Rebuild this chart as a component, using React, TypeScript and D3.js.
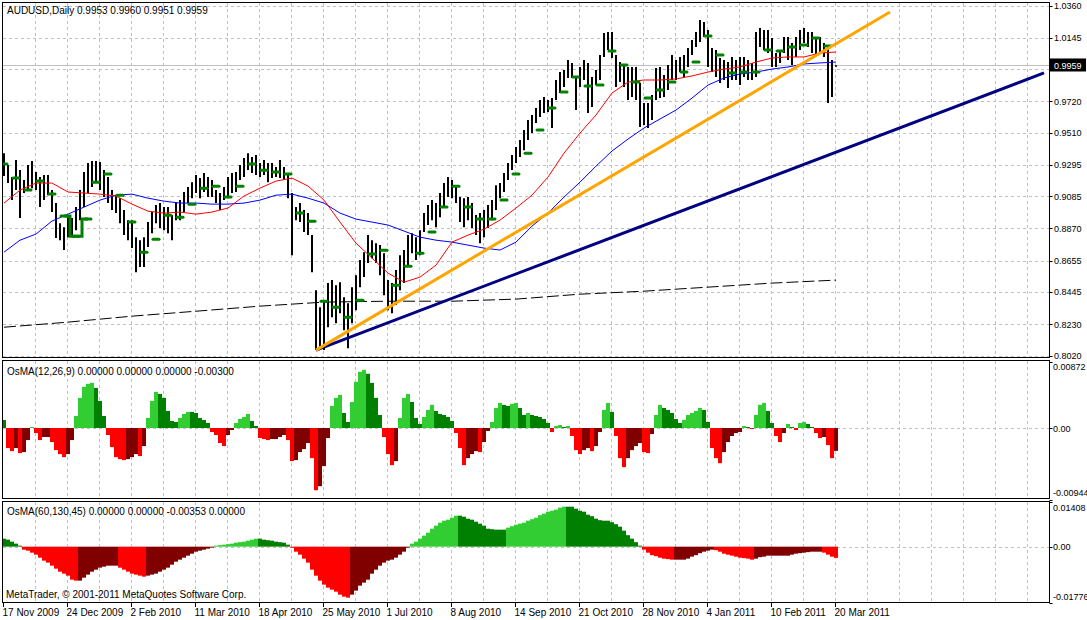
import * as React from 'react';
import * as d3 from 'd3';

// one entry per bar (each bar here covers 2 trading days of the daily chart)
const barHigh = [
  0.9373, 0.9293, 0.9213, 0.9327, 0.9260, 0.9193, 0.9293, 0.9320, 0.9246, 0.9213,
  0.9226, 0.9226, 0.9126, 0.9039, 0.8905, 0.8878, 0.8945, 0.8939, 0.9012, 0.9126,
  0.9246, 0.9307, 0.9320, 0.9320, 0.9313, 0.9260, 0.9213, 0.9126, 0.9092, 0.9072,
  0.8992, 0.8925, 0.8925, 0.8811, 0.8791, 0.8811, 0.8912, 0.8979, 0.9026, 0.9039,
  0.9012, 0.9012, 0.8959, 0.9046, 0.9059, 0.9113, 0.9146, 0.9179, 0.9226, 0.9206,
  0.9240, 0.9213, 0.9193, 0.9126, 0.9106, 0.9146, 0.9213, 0.9240, 0.9246, 0.9293,
  0.9340, 0.9373, 0.9347, 0.9360, 0.9307, 0.9327, 0.9307, 0.9307, 0.9280, 0.9327,
  0.9280, 0.9240, 0.9106, 0.9012, 0.9039, 0.8992, 0.8972, 0.8825, 0.8457, 0.8343,
  0.8390, 0.8504, 0.8524, 0.8490, 0.8510, 0.8410, 0.8370, 0.8477, 0.8557, 0.8658,
  0.8711, 0.8825, 0.8791, 0.8771, 0.8758, 0.8704, 0.8524, 0.8504, 0.8591, 0.8691,
  0.8725, 0.8825, 0.8838, 0.8811, 0.8858, 0.8972, 0.9026, 0.9059, 0.9039, 0.9106,
  0.9173, 0.9213, 0.9193, 0.9159, 0.9079, 0.9072, 0.9079, 0.9039, 0.8959, 0.8972,
  0.8992, 0.9026, 0.9059, 0.9159, 0.9173, 0.9240, 0.9307, 0.9360, 0.9414, 0.9460,
  0.9527, 0.9594, 0.9628, 0.9674, 0.9728, 0.9748, 0.9728, 0.9741, 0.9862, 0.9915,
  0.9929, 0.9996, 0.9976, 0.9882, 0.9949, 0.9996, 0.9976, 0.9882, 0.9929, 1.0029,
  1.0176, 1.0183, 1.0183, 1.0029, 0.9982, 0.9962, 0.9949, 0.9949, 0.9949, 0.9842,
  0.9708, 0.9708, 0.9761, 0.9942, 0.9949, 0.9895, 0.9962, 1.0029, 0.9996, 1.0016,
  1.0029, 1.0076, 1.0129, 1.0183, 1.0263, 1.0250, 1.0196, 1.0076, 1.0062, 1.0009,
  0.9996, 0.9982, 1.0016, 0.9996, 1.0016, 1.0016, 0.9996, 0.9976, 1.0183, 1.0210,
  1.0196, 1.0196, 1.0143, 1.0042, 1.0062, 1.0149, 1.0149, 1.0109, 1.0149, 1.0196,
  1.0210, 1.0183, 1.0183, 1.0149, 1.0149, 1.0109, 1.0096, 0.9996, 0.9960,
];
const barLow = [
  0.9220, 0.9173, 0.9059, 0.9126, 0.8939, 0.9106, 0.9126, 0.9139, 0.9126, 0.9012,
  0.9059, 0.9092, 0.8979, 0.8805, 0.8791, 0.8725, 0.8811, 0.8825, 0.8858, 0.8925,
  0.9012, 0.9106, 0.9146, 0.9173, 0.9126, 0.9079, 0.9039, 0.8992, 0.8972, 0.8905,
  0.8825, 0.8791, 0.8738, 0.8577, 0.8611, 0.8611, 0.8745, 0.8838, 0.8905, 0.8872,
  0.8858, 0.8838, 0.8791, 0.8925, 0.8925, 0.8979, 0.9039, 0.9072, 0.9106, 0.9072,
  0.9113, 0.9079, 0.9079, 0.9039, 0.8992, 0.9059, 0.9072, 0.9106, 0.9113, 0.9193,
  0.9213, 0.9260, 0.9240, 0.9226, 0.9213, 0.9226, 0.9179, 0.9206, 0.9213, 0.9206,
  0.9193, 0.9072, 0.8691, 0.8925, 0.8912, 0.8845, 0.8825, 0.8577, 0.8056, 0.8076,
  0.8056, 0.8209, 0.8276, 0.8236, 0.8303, 0.8189, 0.8069, 0.8236, 0.8323, 0.8477,
  0.8544, 0.8638, 0.8671, 0.8638, 0.8557, 0.8423, 0.8323, 0.8303, 0.8357, 0.8457,
  0.8504, 0.8624, 0.8704, 0.8658, 0.8691, 0.8845, 0.8892, 0.8925, 0.8878, 0.8945,
  0.9012, 0.9079, 0.9072, 0.9039, 0.8912, 0.8878, 0.8925, 0.8872, 0.8825, 0.8771,
  0.8811, 0.8872, 0.8925, 0.8992, 0.9072, 0.9113, 0.9193, 0.9260, 0.9307, 0.9347,
  0.9393, 0.9460, 0.9507, 0.9574, 0.9614, 0.9641, 0.9648, 0.9541, 0.9728, 0.9775,
  0.9815, 0.9875, 0.9875, 0.9661, 0.9815, 0.9862, 0.9641, 0.9681, 0.9828, 0.9862,
  1.0016, 1.0062, 1.0009, 0.9815, 0.9848, 0.9815, 0.9728, 0.9748, 0.9728, 0.9547,
  0.9561, 0.9541, 0.9594, 0.9728, 0.9741, 0.9748, 0.9795, 0.9862, 0.9862, 0.9915,
  0.9882, 0.9949, 1.0029, 1.0083, 1.0116, 1.0149, 0.9949, 0.9915, 0.9882, 0.9842,
  0.9862, 0.9808, 0.9862, 0.9862, 0.9828, 0.9882, 0.9862, 0.9862, 0.9882, 1.0083,
  1.0062, 1.0042, 0.9949, 0.9949, 0.9976, 1.0042, 0.9996, 0.9962, 1.0016, 1.0062,
  1.0109, 1.0083, 1.0042, 1.0029, 1.0042, 1.0016, 0.9708, 0.9748, 0.9951,
];

// moving averages, one reading every 4 bars (red, blue) and every 16 bars (black)
const maStep = 4;
const maRed = [
  0.9039, 0.9126, 0.9173, 0.9173, 0.9113, 0.9106, 0.9099, 0.9086, 0.9032, 0.8985,
  0.8972, 0.8979, 0.8965, 0.8979, 0.9006, 0.9086, 0.9139, 0.9186, 0.9206, 0.9153,
  0.9059, 0.8912, 0.8771, 0.8671, 0.8571, 0.8510, 0.8544, 0.8624, 0.8778, 0.8825,
  0.8865, 0.8925, 0.9006, 0.9092, 0.9213, 0.9373, 0.9507, 0.9628, 0.9775, 0.9848,
  0.9862, 0.9862, 0.9869, 0.9889, 0.9915, 0.9935, 0.9949, 0.9982, 1.0009, 1.0016,
  1.0016, 1.0042, 1.0049,
];
const maBlue = [
  0.8711, 0.8791, 0.8832, 0.8919, 0.8965, 0.9012, 0.9059, 0.9092, 0.9099, 0.9072,
  0.9052, 0.9039, 0.9039, 0.9032, 0.9032, 0.9039, 0.9059, 0.9092, 0.9099, 0.9072,
  0.9039, 0.8972, 0.8932, 0.8912, 0.8892, 0.8852, 0.8811, 0.8791, 0.8778, 0.8758,
  0.8738, 0.8725, 0.8778, 0.8885, 0.8972, 0.9079, 0.9179, 0.9286, 0.9387, 0.9467,
  0.9541, 0.9601, 0.9661, 0.9741, 0.9828, 0.9875, 0.9902, 0.9915, 0.9935, 0.9949,
  0.9969, 0.9976, 0.9982,
];
const maSlowStep = 16;
const maBlack = [
  0.8209, 0.8243, 0.8283, 0.8316, 0.8350, 0.8377, 0.8383, 0.8383, 0.8397, 0.8430,
  0.8450, 0.8477, 0.8504, 0.8524,
];

// weekly green markers: bar index and price
const markerBar = [
  0, 3, 6, 9, 12, 15, 18, 21, 23, 26, 29, 32, 35, 38, 41, 44, 47, 50, 53, 56,
  59, 62, 65, 68, 71, 74, 77, 80, 83, 86, 89, 92, 95, 98, 101, 104, 107, 110, 113, 116,
  119, 122, 125, 128, 131, 134, 137, 140, 143, 146, 149, 152, 155, 158, 161, 164, 167, 170, 173, 176,
  179, 182, 185, 188, 191, 194, 197, 200, 203, 206,
];
const markerPrice = [
  0.9300, 0.9206, 0.9126, 0.9186, 0.9099, 0.8952, 0.8818, 0.8932,
  0.9179, 0.9233, 0.9092, 0.8912, 0.8711, 0.8798, 0.8958, 0.8945, 0.9032, 0.9139,
  0.9152, 0.9079, 0.9152, 0.9300, 0.9259, 0.9246, 0.9233, 0.8972, 0.8918, 0.8383,
  0.8343, 0.8276, 0.8390, 0.8698, 0.8724, 0.8490, 0.8617, 0.8704, 0.8845, 0.9012,
  0.9152, 0.9012, 0.8932, 0.8932, 0.9059, 0.9233, 0.9373, 0.9527, 0.9674, 0.9781,
  0.9882, 0.9821, 0.9828, 1.0056, 0.9962, 0.9848, 0.9741, 0.9795, 0.9848, 0.9915,
  0.9982, 1.0156, 1.0029, 0.9908, 0.9915, 0.9915, 1.0062, 1.0056, 1.0082, 1.0096,
  1.0143, 1.0089,
];

// trend lines: two anchors each (bar index, price)
const orangeBars = [78, 221.5];
const orangePrices = [0.8056, 1.0317];
const navyBars = [78, 260];
const navyPrices = [0.8056, 0.9909];

const lastPrice = 0.9959;

// OsMA histograms in units of 0.00001
const osmaFast = [
  105, -263, -303, -263, -329, -316, -158, 13, -66, -158,
  -118, -118, -184, -290, -342, -382, -342, -158, 158, 395,
  540, 579, 592, 526, 355, 158, -92, -250, -382, -408,
  -421, -408, -382, -342, -368, -237, 132, 355, 474, 447,
  395, 224, 92, 79, 132, 184, 211, 211, 197, 132,
  105, 66, -53, -92, -197, -237, -92, -26, 66, 118,
  145, 184, 92, 26, -132, -145, -158, -145, -145, -118,
  -92, -158, -434, -421, -316, -276, -197, -395, -816, -763,
  -500, -132, 290, 395, 434, 197, 79, 342, 605, 737,
  763, 711, 592, 395, 171, -118, -342, -487, -434, 132,
  395, 447, 342, 132, 53, 145, 237, 303, 224, 184,
  171, 145, 92, -66, -263, -487, -395, -342, -303, -316,
  -184, -39, 79, 263, 329, 303, 290, 316, 329, 263,
  171, 197, 171, 158, 145, 118, 66, -53, 26, 39,
  13, 26, -105, -290, -342, -290, -263, -303, -237, -53,
  237, 329, 211, -105, -395, -513, -395, -290, -237, -197,
  -316, -329, -79, 171, 303, 263, 237, 197, 118, 66,
  105, 171, 197, 224, 263, 237, 79, -263, -395, -461,
  -316, -184, -105, -66, -53, 26, 13, -13, 171, 303,
  329, 224, 66, -105, -184, -66, 53, 13, -26, 66,
  79, 53, 13, -66, -132, -118, -224, -395, -300,
];
const osmaSlow = [
  252, 221, 158, 95, 32, -95, -126, -189, -252, -347,
  -441, -504, -599, -693, -788, -851, -914, -1040, -1071, -1071,
  -977, -882, -788, -725, -662, -630, -599, -599, -599, -662,
  -725, -788, -851, -882, -914, -945, -914, -882, -851, -788,
  -725, -662, -567, -473, -410, -347, -284, -221, -158, -126,
  -95, -63, -32, 32, 47, 63, 79, 95, 126, 142,
  158, 189, 221, 252, 252, 221, 205, 189, 158, 142,
  126, 63, -32, -158, -252, -378, -504, -725, -914, -1071,
  -1197, -1292, -1355, -1418, -1512, -1575, -1607, -1512, -1386, -1229,
  -1134, -1040, -851, -725, -599, -504, -441, -410, -347, -252,
  -158, -32, 95, 158, 252, 347, 441, 567, 662, 756,
  819, 851, 914, 977, 977, 945, 882, 851, 788, 725,
  662, 567, 551, 536, 536, 536, 599, 646, 693, 725,
  756, 819, 866, 914, 992, 1040, 1103, 1134, 1166, 1229,
  1260, 1260, 1260, 1197, 1134, 1103, 1008, 961, 882, 835,
  819, 819, 772, 709, 630, 504, 362, 252, 142, 32,
  -95, -189, -268, -299, -347, -378, -394, -410, -410, -410,
  -410, -378, -315, -268, -205, -158, -126, -95, -110, -158,
  -221, -252, -284, -315, -347, -362, -378, -410, -378, -331,
  -315, -284, -284, -284, -284, -284, -284, -252, -221, -205,
  -189, -173, -158, -158, -158, -189, -252, -315, -353,
];

const priceTicks = [1.0360, 1.0145, 0.9935, 0.9720, 0.9510, 0.9295, 0.9085, 0.8870, 0.8655, 0.8445, 0.8230, 0.8020];
const fastTicks = [872, 0, -944];
const fastTickLabels = ['0.00872', '0.00', '-0.00944'];
const slowTicks = [1408, 0, -1776];
const slowTickLabels = ['0.01408', '0.00', '-0.01776'];
const dateLabels = [
  '17 Nov 2009', '24 Dec 2009', '2 Feb 2010', '11 Mar 2010', '18 Apr 2010', '25 May 2010', '1 Jul 2010',
  '8 Aug 2010', '14 Sep 2010', '21 Oct 2010', '28 Nov 2010', '4 Jan 2011', '10 Feb 2011', '20 Mar 2011',
];
const dateStep = 16;
const gridStep = 8;

const FONT = 'Liberation Sans, Arial, sans-serif';
const GRID = '#C0C0C0';
const RIGHT = 1049.5;

function histColor(v: number, prev: number) {
  if (v >= 0) return v > prev ? '#32CD32' : '#008000';
  return v < prev ? '#FF0000' : '#800000';
}

export default function App() {
  const n = barHigh.length;
  const x = d3.scaleLinear().domain([0, n - 1]).range([4, 4 + 4 * (n - 1)]);
  const yMain = d3.scaleLinear().domain([0.802, 1.036]).range([355.5, 5.5]);
  const yFast = d3.scaleLinear().domain([-944, 872]).range([500, 361.5]);
  const ySlow = d3.scaleLinear().domain([-1776, 1408]).range([603, 502]);

  const crisp = (v: number) => Math.round(v) + 0.5;

  const vGrid = d3.range(1, 40).map(k => x(k * gridStep) - 0.5).filter(v => v < RIGHT - 2);

  const lineRed = d3.line<number>().x((_, i) => x(i * maStep)).y(d => yMain(d))(maRed) || '';
  const lineBlue = d3.line<number>().x((_, i) => x(i * maStep)).y(d => yMain(d))(maBlue) || '';
  const lineBlack = d3.line<number>().x((_, i) => x(i * maSlowStep)).y(d => yMain(d))(maBlack) || '';
  const trendLine = (bars: number[], prices: number[]) =>
    d3.line<number>().x(b => x(b)).y((_, i) => yMain(prices[i]))(bars) || '';
  const uStep = d3.line<number>().curve(d3.curveStep)
    .x(i => x(markerBar[i])).y(i => yMain(markerPrice[i]))([5, 6, 7]) || '';

  const hist = (vals: number[], y: d3.ScaleLinear<number, number>) =>
    vals.map((v, i) => {
      const y0 = y(0), y1 = y(v);
      return (
        <rect key={i} x={x(i) - 2} width={4} y={Math.min(y0, y1)} height={Math.abs(y1 - y0)}
          fill={histColor(v, i > 0 ? vals[i - 1] : v)} />
      );
    });

  const textProps = { fontFamily: FONT, fontSize: 10, fill: '#000' };
  const axisText = { fontFamily: FONT, fontSize: 9, fill: '#000' };
  const lastY = yMain(lastPrice);
  // the current-price box hides the grid label underneath it
  const shownTicks = priceTicks.filter(t => Math.abs(yMain(t) - lastY) > 8);

  return (
    <div style={{ position: 'absolute', left: 0, top: 0, width: 1087, height: 620, background: '#fff' }}>
      <svg width={1087} height={620} style={{ display: 'block' }}>
        <defs>
          <clipPath id="cMain"><rect x={3} y={3} width={RIGHT - 3.5} height={354} /></clipPath>
          <clipPath id="cFast"><rect x={3} y={361} width={RIGHT - 3.5} height={137} /></clipPath>
          <clipPath id="cSlow"><rect x={3} y={502} width={RIGHT - 3.5} height={100} /></clipPath>
        </defs>
        <rect width={1087} height={620} fill="#fff" />

        {/* grids */}
        <g stroke={GRID} strokeWidth={1} strokeDasharray="3,3">
          {vGrid.map((gx, i) => (
            <g key={i}>
              <line x1={gx} x2={gx} y1={3} y2={357} />
              <line x1={gx} x2={gx} y1={361} y2={498} />
              <line x1={gx} x2={gx} y1={502} y2={602} />
            </g>
          ))}
          {priceTicks.map((t, i) => (
            <line key={i} x1={3} x2={RIGHT} y1={crisp(yMain(t))} y2={crisp(yMain(t))} />
          ))}
          <line x1={3} x2={RIGHT} y1={crisp(yFast(0))} y2={crisp(yFast(0))} />
          <line x1={3} x2={RIGHT} y1={crisp(ySlow(0))} y2={crisp(ySlow(0))} />
        </g>

        {/* main panel */}
        <g clipPath="url(#cMain)">
          <line x1={3} x2={RIGHT} y1={crisp(lastY)} y2={crisp(lastY)} stroke={GRID} />
          <g stroke="#000" strokeWidth={2}>
            {barHigh.map((h, i) => (
              <line key={i} x1={x(i)} x2={x(i)} y1={yMain(h)} y2={Math.max(yMain(barLow[i]), yMain(h) + 1)} />
            ))}
          </g>
          <path d={lineBlack} fill="none" stroke="#000" strokeWidth={1} strokeDasharray="12,4" />
          <path d={lineBlue} fill="none" stroke="#0000FF" strokeWidth={1} />
          <path d={lineRed} fill="none" stroke="#FF0000" strokeWidth={1} />
          <path d={uStep} fill="none" stroke="#008000" strokeWidth={3} />
          <g stroke="#008000" strokeWidth={3} strokeLinecap="round">
            {markerBar.map((b, i) => (
              <line key={i} x1={x(b) - 3} x2={x(b) + 3} y1={yMain(markerPrice[i])} y2={yMain(markerPrice[i])} />
            ))}
          </g>
          <path d={trendLine(navyBars, navyPrices)} fill="none" stroke="#000080" strokeWidth={3} />
          <path d={trendLine(orangeBars, orangePrices)} fill="none" stroke="#FFA500" strokeWidth={3} />
        </g>

        {/* oscillators */}
        <g clipPath="url(#cFast)">{hist(osmaFast, yFast)}</g>
        <g clipPath="url(#cSlow)">{hist(osmaSlow, ySlow)}</g>

        {/* panel frames */}
        <g fill="none" stroke="#000" strokeWidth={1}>
          <rect x={2.5} y={2.5} width={RIGHT - 2.5} height={355} />
          <rect x={2.5} y={360.5} width={RIGHT - 2.5} height={138} />
          <rect x={2.5} y={501.5} width={RIGHT - 2.5} height={101} />
        </g>

        {/* right scale */}
        <g stroke="#000">
          {priceTicks.map((t, i) => (
            <line key={i} x1={RIGHT} x2={RIGHT + 3} y1={crisp(yMain(t))} y2={crisp(yMain(t))} />
          ))}
          {fastTicks.map((t, i) => (
            <line key={'f' + i} x1={RIGHT} x2={RIGHT + 3} y1={crisp(yFast(t))} y2={crisp(yFast(t))} />
          ))}
          {slowTicks.map((t, i) => (
            <line key={'s' + i} x1={RIGHT} x2={RIGHT + 3} y1={crisp(ySlow(t))} y2={crisp(ySlow(t))} />
          ))}
        </g>
        <g {...axisText}>
          {shownTicks.map((t, i) => (
            <text key={i} x={1054} y={yMain(t) + 3.5}>{t.toFixed(4)}</text>
          ))}
          {fastTicks.map((t, i) => (
            <text key={'f' + i} x={1053} y={i === 0 ? 370 : i === 2 ? 496 : yFast(t) + 3.5}>{fastTickLabels[i]}</text>
          ))}
          {slowTicks.map((t, i) => (
            <text key={'s' + i} x={1053} y={i === 0 ? 511 : i === 2 ? 600 : ySlow(t) + 3.5}>{slowTickLabels[i]}</text>
          ))}
        </g>
        <rect x={1050} y={lastY - 7} width={36} height={13} fill="#000" />
        <text x={1054} y={lastY + 3.5} {...axisText} fill="#fff">{lastPrice.toFixed(4)}</text>

        {/* time axis */}
        <g stroke="#000">
          {dateLabels.map((_, i) => (
            <line key={i} x1={x(i * dateStep) - 0.5} x2={x(i * dateStep) - 0.5} y1={602} y2={607} />
          ))}
        </g>
        <g {...textProps}>
          {dateLabels.map((d, i) => (
            <text key={i} x={x(i * dateStep) - 1.5} y={616}>{d}</text>
          ))}
        </g>

        {/* captions */}
        <g {...textProps} style={{ whiteSpace: 'pre' }}>
          <text x={7} y={14}>{'AUDUSD,Daily  0.9953 0.9960 0.9951 0.9959'}</text>
          <text x={7} y={375}>{'OsMA(12,26,9) 0.00000 0.00000 0.00000 -0.00300'}</text>
          <text x={7} y={515}>{'OsMA(60,130,45) 0.00000 0.00000 -0.00353 0.00000'}</text>
          <text x={6} y={598}>{'MetaTrader, \u00A9 2001-2011 MetaQuotes Software Corp.'}</text>
        </g>
      </svg>
    </div>
  );
}
